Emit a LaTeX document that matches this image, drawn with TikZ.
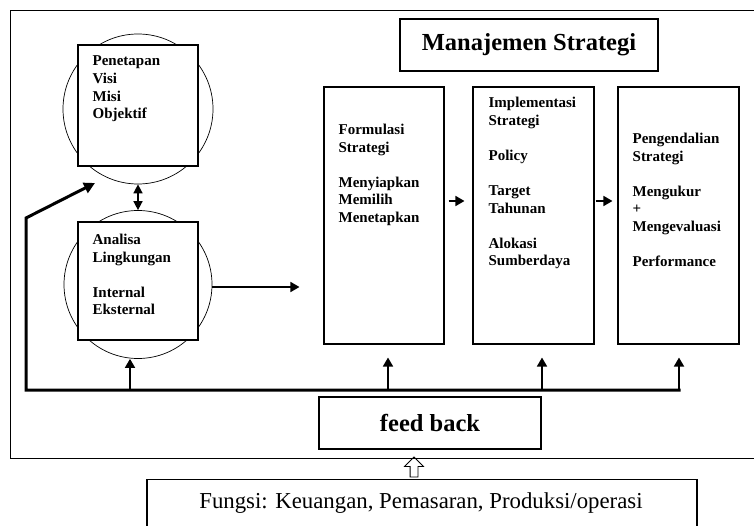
\documentclass[tikz,border=0pt]{standalone}
\usepackage{fontspec}
\setmainfont{Liberation Serif}
\usetikzlibrary{arrows.meta,positioning,shapes.arrows}

\begin{document}
\begin{tikzpicture}[x=1pt,y=-1pt,>={Triangle[length=9pt,width=10pt]},
                    kotak/.style={draw,line width=1.1pt,fill=white,inner sep=0pt},
                    bulat/.style={draw,circle,line width=0.7pt,inner sep=0pt},
                    isi/.style={align=left,inner sep=0pt,font=\bfseries\fontsize{15}{17.6}\selectfont},
                    balik/.style={line width=3pt},
                    panah/.style={->,line width=1.7pt}]

  \useasboundingbox (0,0) rectangle (754,526);
  \draw[line width=1pt] (10,11) rectangle (780,458);

  % sasaran dan lingkungan
  \node[bulat,minimum size=150pt] (lingkaran1) at (138,109) {};
  \node[bulat,minimum size=148pt] (lingkaran2) at (138,284.5) {};
  \node[kotak,minimum width=120pt,minimum height=121pt] (penetapan) at (138,105.5) {};
  \node[kotak,minimum width=120pt,minimum height=118pt] (analisa) at (138,281) {};
  \node[isi,below right=11.5pt and 15pt of penetapan.north west] (tpenetapan)
        {Penetapan\\Visi\\Misi\\Objektif};
  \node[isi,below right=12.5pt and 15pt of analisa.north west] (tanalisa)
        {Analisa\\Lingkungan\\[17.6pt]Internal\\Eksternal};

  % tahapan
  \node[kotak,minimum width=258pt,minimum height=52pt,
        font=\bfseries\fontsize{24.5}{28}\selectfont] (judul) at (529,45) {Manajemen Strategi};
  \node[kotak,minimum width=120pt,minimum height=257pt] (formulasi) at (384,215.5) {};
  \node[kotak,minimum width=121pt,minimum height=257pt] (implementasi) at (533.5,215.5) {};
  \node[kotak,minimum width=121pt,minimum height=257pt] (pengendalian) at (678.5,215.5) {};
  \node[isi,below right=37.5pt and 15pt of formulasi.north west] (tformulasi)
        {Formulasi\\Strategi\\[17.6pt]Menyiapkan\\Memilih\\Menetapkan};
  \node[isi,below right=10.5pt and 16pt of implementasi.north west] (timplementasi)
        {Implementasi\\Strategi\\[17.6pt]Policy\\[17.6pt]Target\\Tahunan\\[17.6pt]Alokasi\\Sumberdaya};
  \node[isi,below right=46.5pt and 15pt of pengendalian.north west] (tpengendalian)
        {Pengendalian\\Strategi\\[17.6pt]Mengukur\\+\\Mengevaluasi\\[17.6pt]Performance};

  \node[kotak,minimum width=222pt,minimum height=52pt,
        font=\bfseries\fontsize{24.5}{28}\selectfont] (feedback) at (430,423) {feed back};
  \node[kotak,minimum width=550pt,minimum height=80pt,anchor=north] (fungsi) at (422,479) {};
  \node[anchor=base,inner sep=0pt,font=\fontsize{22.8}{26}\selectfont] (tfungsi) at (421,508)
        {Fungsi: Keuangan, Pemasaran, Produksi/operasi};
  \node[single arrow,draw,line width=0.8pt,rotate=90,minimum height=20pt,
        single arrow head extend=5.5pt,inner sep=3.5pt] (naik) at (414,469) {};

  % umpan balik
  \coordinate (masuk) at (95,183);
  \coordinate (belok) at (26,218);
  \coordinate (pojok) at (26,390);
  \coordinate (fb1) at (130,390);
  \coordinate (fb2) at (388,390);
  \coordinate (fb3) at (542,390);
  \coordinate (fb4) at (679,390);
  \draw[balik,<-,>={Triangle[length=11pt,width=11pt]}] (masuk) -- (belok) -- (pojok) -- ([xshift=1.5pt]fb4);

  \draw[panah] (fb1) -- (fb1 |- lingkaran2.south);
  \draw[panah,shorten >=13pt] (fb2) -- (fb2 |- formulasi.south);
  \draw[panah,shorten >=13pt] (fb3) -- (fb3 |- implementasi.south);
  \draw[panah,shorten >=13pt] (fb4) -- (fb4 |- pengendalian.south);

  \draw[<->,line width=1.5pt,>={Triangle[length=9pt,width=9pt]}] (lingkaran1) -- (lingkaran2);
  \draw[panah,shorten >=24pt] ([yshift=-2.5pt]lingkaran2.east) -- ([yshift=-2.5pt]formulasi.west |- lingkaran2.east);
  \draw[panah,shorten <=4pt,shorten >=8pt] ([yshift=14.5pt]formulasi.east) -- ([yshift=14.5pt]implementasi.west);
  \draw[panah,shorten <=1pt,shorten >=5pt] ([yshift=14.5pt]implementasi.east) -- ([yshift=14.5pt]pengendalian.west);

\end{tikzpicture}
\end{document}
